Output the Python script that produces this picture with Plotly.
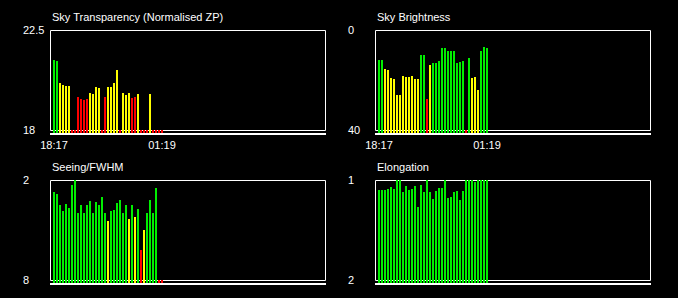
import plotly.graph_objects as go

W, H = 678, 298

# ---- data ----
transparency = [21.15, 21.1, 20.12, 20.03, 19.98, 19.98, 18, 18, 19.49, 19.4,
                19.35, 19.4, 19.67, 19.62, 19.94, 19.89, 18, 19.49, 19.94, 19.94,
                20.12, 20.7, 18, 19.67, 19.58, 19.67, 19.44, 19.49, 19.62, 18,
                18, 18, 19.62, 18, 18, 18, 18]
transparency_status = list("ggyyyyrrrrrryyyyrryyyyryyyrryrrryrrrr")

brightness = [12, 12, 15.6, 16, 19.2, 19.6, 26, 26, 18.4, 18.8,
              18.8, 18.4, 19.6, 19.6, 10, 10, 27.6, 14, 13.2, 13.2,
              12.4, 7.2, 7.2, 8.4, 8.4, 8.4, 13.2, 12.8, 12.4, 40,
              11.2, 19.2, 18.8, 24, 8.4, 6.8, 7.2]
brightness_status = list("gg" + "y" * 12 + "gg" + "r" + "y" + "g" * 11 + "r" + "g" + "yyy" + "ggg")

seeing = [2.72, 2.84, 3.5, 3.86, 3.44, 3.68, 2.3, 2.0, 3.98, 3.5,
          3.98, 3.5, 3.26, 3.98, 3.32, 3.5, 3.02, 3.98, 4.46, 3.86,
          3.8, 3.38, 3.2, 3.98, 3.5, 4.34, 3.5, 4.22, 3.74, 6.2,
          5.0, 3.98, 3.2, 3.98, 2.48, 8, 8]
seeing_status = list("g" * 18 + "y" + "g" * 6 + "y" + "g" + "y" + "g" + "r" + "y" + "g" * 4 + "rr")

elongation = [1.10, 1.10, 1.10, 1.09, 1.07, 1.09, 1.0, 1.0, 1.12, 1.06,
              1.10, 1.09, 1.06, 1.27, 1.05, 1.12, 1.0, 1.12, 1.19, 1.11,
              1.08, 1.08, 1.0, 1.18, 1.17, 1.12, 1.11, 1.20, 1.11, 1.0,
              1.0, 1.0, 1.02, 1.0, 1.0, 1.0, 1.0]
elongation_status = list("g" * 37)

time_ticks = [0, 36]
time_labels = ["18:17", "01:19"]

COLORS = {"g": "#00ee00", "y": "#ffff00", "r": "#ff0000"}
FONT = "Liberation Sans, Arial, sans-serif"

panels = [
    ("Sky Transparency (Normalised ZP)", transparency, transparency_status, 22.5, 18, 50, 30, True),
    ("Sky Brightness", brightness, brightness_status, 0, 40, 375, 30, True),
    ("Seeing/FWHM", seeing, seeing_status, 2, 8, 50, 180, False),
    ("Elongation", elongation, elongation_status, 1, 2, 375, 180, False),
]

fig = go.Figure()
shapes, annotations = [], []
layout = {}

def px2x(px):
    return px / W

def py2y(py):
    return 1 - py / H

for k, (title, vals, status, top, bot, bx, by, xlab) in enumerate(panels):
    n = k + 1
    xa = "x" if n == 1 else f"x{n}"
    ya = "y" if n == 1 else f"y{n}"
    span = bot - top
    base = bot + 0.03 * span
    rng_bottom = bot + 0.05 * span
    xs = list(range(len(vals)))
    fig.add_trace(go.Bar(
        x=xs, y=[v - base for v in vals], base=[base] * len(vals),
        marker=dict(color=[COLORS[s] for s in status], line=dict(width=0)),
        width=2 / 3, offset=-1 / 3, xaxis=xa, yaxis=ya, showlegend=False, hoverinfo="skip",
    ))
    x0 = -4 / 3
    layout["xaxis" if n == 1 else f"xaxis{n}"] = dict(
        domain=[px2x(bx), px2x(bx + 276)], range=[x0, x0 + 92],
        showgrid=False, zeroline=False, showline=False, ticks="",
        tickvals=time_ticks if xlab else [], ticktext=time_labels if xlab else [],
        showticklabels=xlab, tickfont=dict(family=FONT, size=11, color="#ffffff"),
        ticklabelstandoff=2,
        anchor=ya, fixedrange=True, automargin=False,
    )
    layout["yaxis" if n == 1 else f"yaxis{n}"] = dict(
        domain=[py2y(by + 105), py2y(by)], range=[rng_bottom, top],
        showgrid=False, zeroline=False, showline=False, showticklabels=False,
        ticks="", anchor=xa, fixedrange=True, automargin=False,
    )
    shapes.append(dict(type="rect", xref="paper", yref="paper",
                       x0=px2x(bx + 0.5), x1=px2x(bx + 275.5),
                       y0=py2y(by + 100.5), y1=py2y(by + 0.5),
                       line=dict(color="#ffffff", width=1), layer="below"))
    shapes.append(dict(type="line", xref="paper", yref="paper",
                       x0=px2x(bx), x1=px2x(bx + 276),
                       y0=py2y(by + 104), y1=py2y(by + 104),
                       line=dict(color="#ffffff", width=2), layer="above"))
    annotations.append(dict(text=title, xref="paper", yref="paper",
                            x=px2x(bx - 0.5), y=py2y(by - 13), xanchor="left", yanchor="middle",
                            showarrow=False, font=dict(family=FONT, size=11, color="#ffffff")))
    for val in (top, bot):
        annotations.append(dict(text=str(val), xref="paper", yref=ya,
                                x=px2x(bx - 29), y=val, xanchor="left", yanchor="middle",
                                showarrow=False, font=dict(family=FONT, size=11, color="#ffffff")))

fig.update_layout(
    template="none",
    width=W, height=H, margin=dict(l=0, r=0, t=0, b=0, pad=0), autosize=False,
    paper_bgcolor="#000000", plot_bgcolor="#000000",
    barmode="overlay", bargap=0, shapes=shapes, annotations=annotations, **layout,
)
fig.write_html("out.html", config={"displayModeBar": False})
